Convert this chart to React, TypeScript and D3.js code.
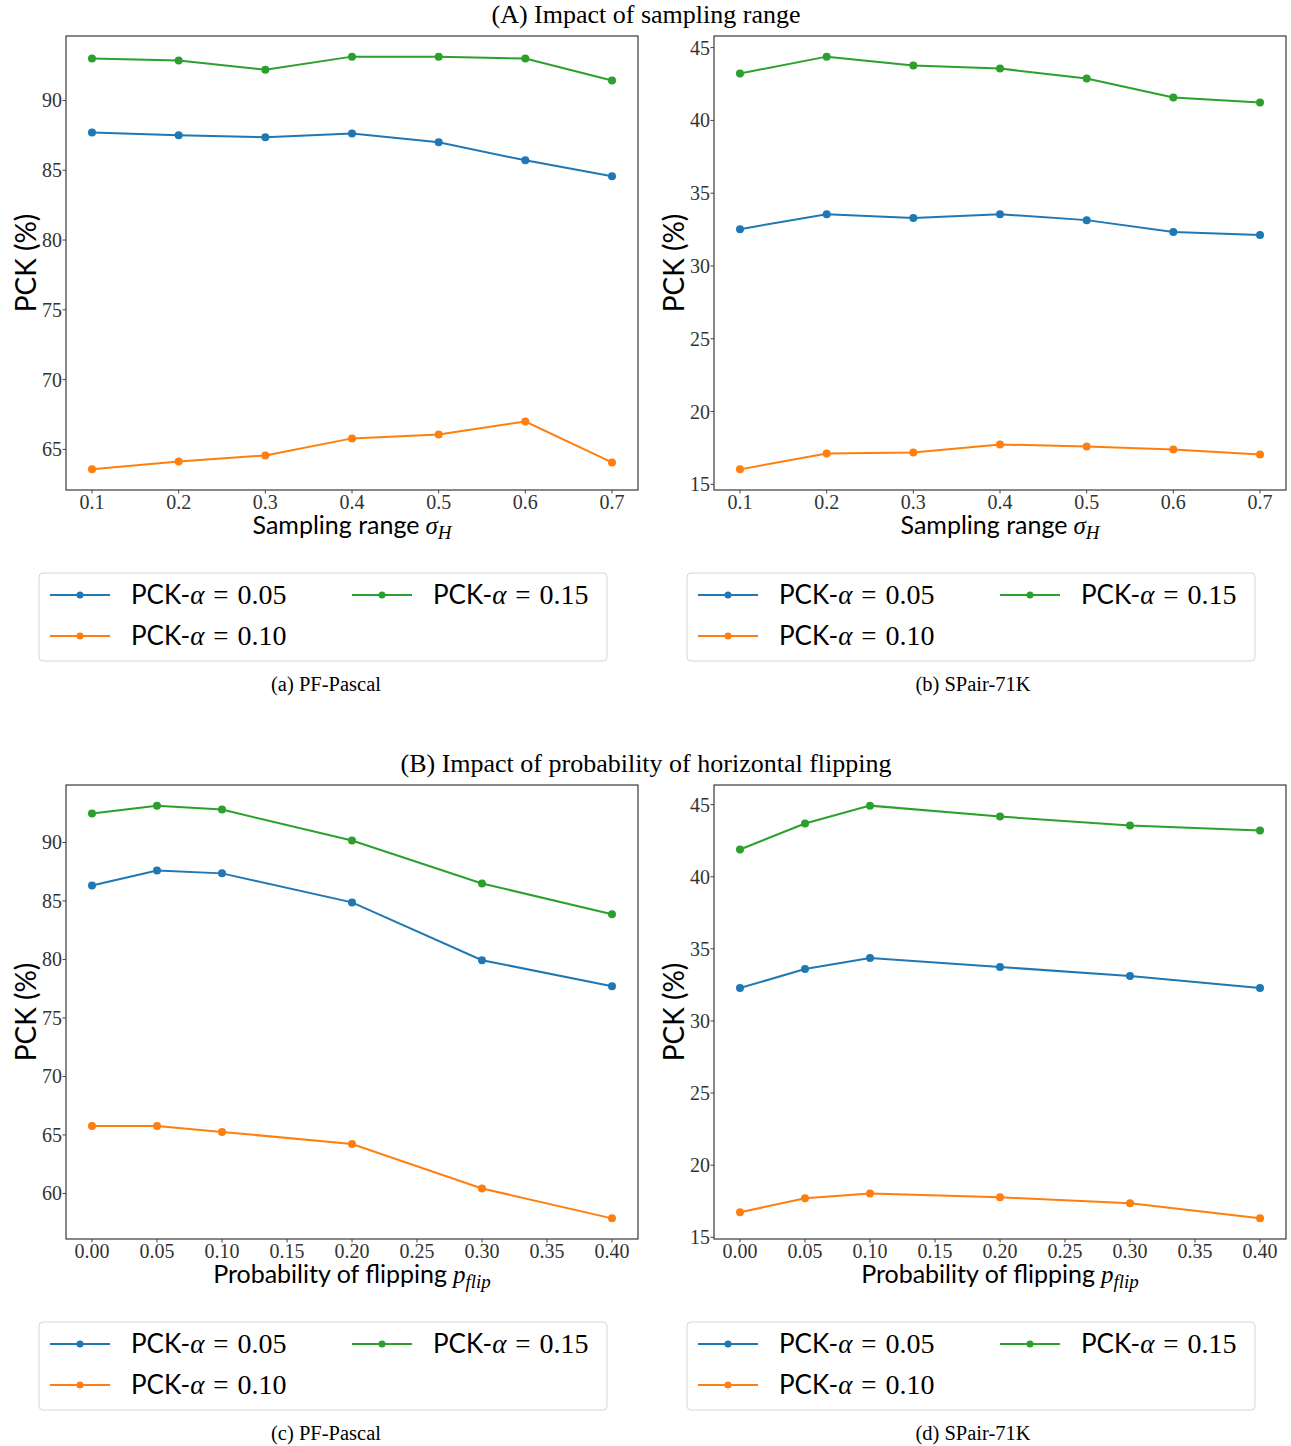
import React from "react";
import * as d3 from "d3";

// x values
const sigmaH = [0.1, 0.2, 0.3, 0.4, 0.5, 0.6, 0.7];
const pFlip = [0.0, 0.05, 0.1, 0.2, 0.3, 0.4];

// tick labels
const sigmaTicks = [0.1, 0.2, 0.3, 0.4, 0.5, 0.6, 0.7];
const flipTicks = [0, 0.05, 0.1, 0.15, 0.2, 0.25, 0.3, 0.35, 0.4];
const pascalTicksA = [65, 70, 75, 80, 85, 90];
const pascalTicksC = [60, 65, 70, 75, 80, 85, 90];
const spairTicks = [15, 20, 25, 30, 35, 40, 45];

// (a) PF-Pascal, sampling range
const aPck05 = [87.7, 87.5, 87.36, 87.64, 87.0, 85.71, 84.57];
const aPck10 = [63.57, 64.14, 64.57, 65.79, 66.07, 67.0, 64.07];
const aPck15 = [93.0, 92.86, 92.2, 93.14, 93.14, 93.0, 91.43];

// (b) SPair-71K, sampling range
const bPck05 = [32.53, 33.56, 33.29, 33.56, 33.15, 32.33, 32.12];
const bPck10 = [16.03, 17.12, 17.19, 17.74, 17.6, 17.4, 17.05];
const bPck15 = [43.22, 44.38, 43.77, 43.56, 42.88, 41.58, 41.23];

// (c) PF-Pascal, flipping
const cPck05 = [86.33, 87.61, 87.36, 84.88, 79.94, 77.72];
const cPck10 = [65.77, 65.77, 65.26, 64.23, 60.43, 57.87];
const cPck15 = [92.47, 93.15, 92.81, 90.17, 86.5, 83.86];

// (d) SPair-71K, flipping
const dPck05 = [32.28, 33.6, 34.36, 33.74, 33.11, 32.28];
const dPck10 = [16.73, 17.7, 18.04, 17.77, 17.35, 16.31];
const dPck15 = [41.89, 43.69, 44.93, 44.17, 43.55, 43.2];

const seriesNames = ["0.05", "0.10", "0.15"];
const colors = ["#1f77b4", "#ff7f0e", "#2ca02c"];

const SANS = "Lato, 'DejaVu Sans', sans-serif";
const SERIF = "'Liberation Serif', 'DejaVu Serif', serif";

const W = 572;
const H = 454;

const Panel = ({ left, top, xs, series, xTicks, yTicks, xFmt, xLabel }) => {
  const pad = (lo, hi) => [lo - (hi - lo) * 0.05, hi + (hi - lo) * 0.05];
  const all = series.flat();
  const xScale = d3.scaleLinear().domain(pad(d3.min(xs), d3.max(xs))).range([0, W]);
  const yScale = d3.scaleLinear().domain(pad(d3.min(all), d3.max(all))).range([H, 0]);
  const line = d3
    .line()
    .x((d) => xScale(d[0]))
    .y((d) => yScale(d[1]));

  return (
    <g transform={`translate(${left},${top})`}>
      {series.map((vals, i) => (
        <g key={i}>
          <path
            d={line(xs.map((x, j) => [x, vals[j]]))}
            fill="none"
            stroke={colors[i]}
            strokeWidth={2}
          />
          {xs.map((x, j) => (
            <circle key={j} cx={xScale(x)} cy={yScale(vals[j])} r={4} fill={colors[i]} />
          ))}
        </g>
      ))}
      <rect x={0} y={0} width={W} height={H} fill="none" stroke="#3a3a3a" strokeWidth={1.2} />
      {/* y axis */}
      {yTicks.map((t) => (
        <g key={t} transform={`translate(0,${yScale(t)})`}>
          <line x1={-3.5} x2={0} stroke="#444" />
          <text
            x={-4}
            dy="0.35em"
            textAnchor="end"
            fontFamily={SERIF}
            fontSize={20}
            fill="#333"
          >
            {t}
          </text>
        </g>
      ))}
      {/* x axis */}
      {xTicks.map((t) => (
        <g key={t} transform={`translate(${xScale(t)},${H})`}>
          <line y1={0} y2={3.5} stroke="#444" />
          <text y={19} textAnchor="middle" fontFamily={SERIF} fontSize={20} fill="#333">
            {xFmt(t)}
          </text>
        </g>
      ))}
      <text x={W / 2} y={H + 44} textAnchor="middle" fontSize={25} fill="#000">
        <tspan fontFamily={SANS}>{xLabel[0]}</tspan>
        <tspan fontFamily={SERIF} fontStyle="italic" dx={6}>
          {xLabel[1]}
        </tspan>
        <tspan fontFamily={SERIF} fontStyle="italic" fontSize={19} dy={5}>
          {xLabel[2]}
        </tspan>
      </text>
      <text
        transform={`translate(${-30},${H / 2}) rotate(-90)`}
        textAnchor="middle"
        fontFamily={SANS}
        fontSize={28}
        fill="#000"
      >
        PCK (%)
      </text>
    </g>
  );
};

const Legend = ({ left, top }) => {
  const slots = [
    [0, 0],
    [0, 1],
    [1, 0],
  ];
  return (
    <g transform={`translate(${left},${top})`}>
      <rect x={0} y={0} width={568} height={88} rx={4} fill="#fff" stroke="#d6d6d6" strokeWidth={1} />
      {seriesNames.map((name, i) => {
        const [col, row] = slots[i];
        const x0 = 11 + col * 302;
        const y0 = 22 + row * 41;
        return (
          <g key={name} transform={`translate(${x0},${y0})`}>
            <line x1={0} x2={60} stroke={colors[i]} strokeWidth={2} />
            <circle cx={30} cy={0} r={3.5} fill={colors[i]} />
            <text x={81} dy="0.35em" fontSize={26} fill="#000">
              <tspan fontFamily={SANS}>PCK-</tspan>
              <tspan fontFamily={SERIF} fontStyle="italic" fontSize={27}>α</tspan>
              <tspan fontFamily={SERIF} fontSize={27} dx={9}>=</tspan>
              <tspan fontFamily={SERIF} fontSize={28} dx={9}>{name}</tspan>
            </text>
          </g>
        );
      })}
    </g>
  );
};

const fmt1 = (d) => d3.format(".1f")(d);
const fmt2 = (d) => d3.format(".2f")(d);

export default function App() {
  return (
    <svg
      width={1291}
      height={1446}
      style={{ position: "absolute", left: 0, top: 0, background: "#fff" }}
    >
      <rect width={1291} height={1446} fill="#fff" />
      <text x={646} y={23} textAnchor="middle" fontFamily={SERIF} fontSize={26}>
        (A) Impact of sampling range
      </text>
      <Panel
        left={66}
        top={36}
        xs={sigmaH}
        series={[aPck05, aPck10, aPck15]}
        xTicks={sigmaTicks}
        yTicks={pascalTicksA}
        xFmt={fmt1}
        xLabel={["Sampling range", "σ", "H"]}
      />
      <Panel
        left={714}
        top={36}
        xs={sigmaH}
        series={[bPck05, bPck10, bPck15]}
        xTicks={sigmaTicks}
        yTicks={spairTicks}
        xFmt={fmt1}
        xLabel={["Sampling range", "σ", "H"]}
      />
      <Legend left={39} top={573} />
      <Legend left={687} top={573} />
      <text x={326} y={691} textAnchor="middle" fontFamily={SERIF} fontSize={20.5}>
        (a) PF-Pascal
      </text>
      <text x={973} y={691} textAnchor="middle" fontFamily={SERIF} fontSize={20.5}>
        (b) SPair-71K
      </text>

      <text x={646} y={772} textAnchor="middle" fontFamily={SERIF} fontSize={26}>
        (B) Impact of probability of horizontal flipping
      </text>
      <Panel
        left={66}
        top={785}
        xs={pFlip}
        series={[cPck05, cPck10, cPck15]}
        xTicks={flipTicks}
        yTicks={pascalTicksC}
        xFmt={fmt2}
        xLabel={["Probability of flipping", "p", "flip"]}
      />
      <Panel
        left={714}
        top={785}
        xs={pFlip}
        series={[dPck05, dPck10, dPck15]}
        xTicks={flipTicks}
        yTicks={spairTicks}
        xFmt={fmt2}
        xLabel={["Probability of flipping", "p", "flip"]}
      />
      <Legend left={39} top={1322} />
      <Legend left={687} top={1322} />
      <text x={326} y={1440} textAnchor="middle" fontFamily={SERIF} fontSize={20.5}>
        (c) PF-Pascal
      </text>
      <text x={973} y={1440} textAnchor="middle" fontFamily={SERIF} fontSize={20.5}>
        (d) SPair-71K
      </text>
    </svg>
  );
}
